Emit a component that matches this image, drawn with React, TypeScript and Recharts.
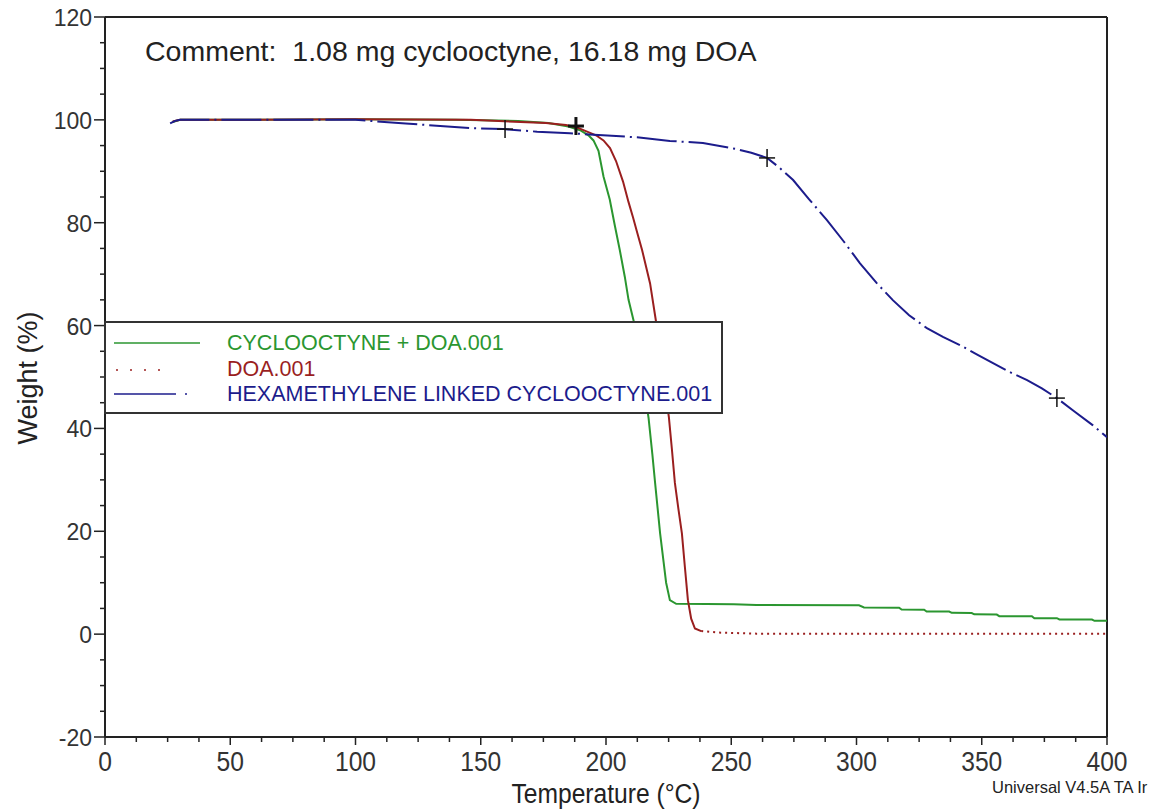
import { ComposedChart, Line, Scatter, XAxis, YAxis, ReferenceLine, Legend } from "recharts";

// TGA traces, [temperature °C, weight %]
const cyclooctyneDoa: [number, number][] = [
  [27, 99.6], [30, 100], [60, 100], [100, 100.1], [140, 100], [165, 99.8], [177, 99.4],
  [185, 98.7], [190, 97.9], [193, 97], [195, 96], [197, 94], [199, 89], [201.5, 84.5],
  [203.5, 79.5], [205.5, 74.7], [207.5, 69.5], [209, 65], [211, 61], [214, 52], [217, 42],
  [218.5, 35], [219.6, 29.4], [220.6, 24.5], [221.6, 19.6], [223, 14], [224, 10], [225.5, 6.6],
  [228, 5.9], [240, 5.85], [251, 5.8], [260, 5.65], [301, 5.6], [303, 5.2], [317, 5.15],
  [318, 4.8], [327, 4.75], [328, 4.4], [337, 4.4], [338, 4.15], [346, 4.1], [347, 3.85],
  [356, 3.8], [357, 3.5], [370, 3.5], [371, 3.1], [380, 3.1], [381, 2.85], [394, 2.85],
  [395, 2.6], [400, 2.6],
];

const doa: [number, number][] = [
  [27, 99.7], [30, 100], [100, 100.1], [146, 100], [176, 99.4], [184, 99], [188, 98.6],
  [191, 98], [196, 97], [199, 96], [201.6, 94.5], [204, 92], [206.8, 88], [209, 84],
  [210.8, 81], [212.5, 78], [214.4, 74.7], [217.6, 68.2], [220, 60.7], [222.5, 51.5],
  [225.1, 42.2], [226.3, 36], [227.5, 29.4], [229, 24], [230.3, 19.6], [231.5, 13],
  [232.7, 6.6], [234, 3], [235.5, 1.1], [238, 0.6], [245, 0.3], [260, 0.1], [400, 0.1],
];

const hexLinked: [number, number][] = [
  [26, 99.3], [28, 99.8], [30, 100], [100, 100], [120, 99.3], [146, 98.4], [159, 98.2],
  [172.5, 97.7], [185.6, 97.4], [198.8, 97], [212.4, 96.6], [225.5, 95.9], [238.7, 95.5],
  [252.3, 94.3], [258, 93.6], [264.3, 92.6], [269, 90.8], [274.7, 88.3], [281, 84.6],
  [288.2, 80.5], [295, 76.3], [301.4, 72.1], [308, 68.3], [314.6, 64.9], [321, 62],
  [328.1, 59.5], [334.5, 57.8], [341.3, 56.2], [348, 54.4], [354.5, 52.7], [361, 51],
  [368.1, 49.4], [374, 47.8], [380, 45.9], [387, 43.3], [394.4, 40.6], [400, 38.3],
];

// analysis cursors (+)
const cursorT = [159.7, 188, 264.3, 380];
const cursorW = [98.2, 98.8, 92.6, 45.9];
const cursorBold = [false, true, false, false];

const xMajor = [0, 50, 100, 150, 200, 250, 300, 350, 400];
const yMajor = [-20, 0, 20, 40, 60, 80, 100, 120];
const xTicks = Array.from({ length: 33 }, (_, i) => i * 12.5);
const yTicks = Array.from({ length: 29 }, (_, i) => -20 + i * 5);

const legendLabels = ["CYCLOOCTYNE + DOA.001", "DOA.001", "HEXAMETHYLENE LINKED CYCLOOCTYNE.001"];

const GREEN = "#2b9630";
const RED = "#9a1f1f";
const BLUE = "#1c1c8c";
const INK = "#222";

const toPts = (arr: [number, number][]) => arr.map(([t, w]) => ({ t, w }));
const doaHead = toPts(doa.filter(([t]) => t <= 238));
const doaTail = toPts(doa.filter(([t]) => t >= 238));
const cursors = cursorT.map((t, i) => ({ t, w: cursorW[i], bold: cursorBold[i] }));

const sans = "'Liberation Sans', Arial, sans-serif";

const YTick = (props: any) => {
  const { x, y, payload } = props;
  const major = yMajor.includes(payload.value);
  return (
    <g>
      <line x1={x - (major ? 11 : 5)} x2={x} y1={y} y2={y} stroke={INK} strokeWidth={1.5} />
      {major && (
        <text x={x - 13} y={y + 1} textAnchor="end" dominantBaseline="central" fontSize={23} fill="#333" fontFamily={sans}>
          {payload.value}
        </text>
      )}
    </g>
  );
};

// x labels in the reference are condensed
const XTick = (props: any) => {
  const { x, y, payload } = props;
  const major = xMajor.includes(payload.value);
  return (
    <g>
      <line x1={x} x2={x} y1={y} y2={y + (major ? 8 : 5)} stroke={INK} strokeWidth={1.5} />
      {major && (
        <text
          transform={`translate(${x} ${y + 24}) scale(0.88 1)`}
          textAnchor="middle"
          dominantBaseline="central"
          fontSize={28}
          fill="#333"
          fontFamily={sans}
        >
          {payload.value}
        </text>
      )}
    </g>
  );
};

const Plus = (props: any) => {
  const { cx, cy, payload } = props;
  const sw = payload.bold ? 3 : 1.5;
  return (
    <g stroke="#111" strokeWidth={sw}>
      <line x1={cx - 8} x2={cx + 8} y1={cy} y2={cy} />
      <line x1={cx} x2={cx} y1={cy - 9} y2={cy + 9} />
    </g>
  );
};

const renderLegend = () => (
  <svg width={620} height={94} style={{ display: "block" }}>
    <rect x={1} y={1} width={617} height={91} fill="#fff" stroke="#333" strokeWidth={2} />
    <line x1={10} x2={96} y1={22} y2={22} stroke={GREEN} strokeWidth={1.5} />
    <line x1={12} x2={62} y1={49} y2={49} stroke={RED} strokeWidth={1.5} strokeDasharray="2 12" />
    <line x1={10} x2={72} y1={73} y2={73} stroke={BLUE} strokeWidth={1.5} />
    <line x1={81} x2={83} y1={73} y2={73} stroke={BLUE} strokeWidth={1.5} />
    {legendLabels.map((label, i) => (
      <text
        key={label}
        x={123}
        y={[22, 48, 73][i]}
        dominantBaseline="central"
        fontSize={21.5}
        fontFamily={sans}
        fill={[GREEN, RED, BLUE][i]}
      >
        {label}
      </text>
    ))}
  </svg>
);

function App() {
  return (
    <div style={{ position: "absolute", left: 0, top: 0, width: 1153, height: 810, background: "#fff" }}>
      <ComposedChart width={1153} height={810} margin={{ top: 17, right: 46, bottom: 0, left: 0 }}>
        <XAxis
          dataKey="t"
          type="number"
          domain={[0, 400]}
          ticks={xTicks}
          interval={0}
          allowDataOverflow
          height={73}
          tickSize={0}
          tickMargin={0}
          tickLine={false}
          tick={<XTick />}
          axisLine={{ stroke: INK, strokeWidth: 2 }}
          label={{
            content: () => (
              <text
                transform="translate(606 793) scale(0.88 1)"
                textAnchor="middle"
                dominantBaseline="central"
                fontSize={28}
                fill={INK}
                fontFamily={sans}
              >
                Temperature (°C)
              </text>
            ),
          }}
        />
        <YAxis
          type="number"
          domain={[-20, 120]}
          ticks={yTicks}
          interval={0}
          allowDataOverflow
          width={105}
          tickSize={0}
          tickMargin={0}
          tickLine={false}
          tick={<YTick />}
          axisLine={{ stroke: INK, strokeWidth: 2 }}
          label={{
            content: () => (
              <text
                x={28}
                y={378}
                textAnchor="middle"
                dominantBaseline="central"
                fontSize={27}
                fill={INK}
                fontFamily={sans}
                transform="rotate(-90 28 378)"
              >
                Weight (%)
              </text>
            ),
          }}
        />
        <ReferenceLine y={120} stroke={INK} strokeWidth={2} />
        <ReferenceLine x={400} stroke={INK} strokeWidth={2} />
        <Line data={toPts(cyclooctyneDoa)} dataKey="w" stroke={GREEN} strokeWidth={2} dot={false} isAnimationActive={false} />
        <Line data={doaHead} dataKey="w" stroke={RED} strokeWidth={2} dot={false} isAnimationActive={false} />
        <Line data={doaTail} dataKey="w" stroke={RED} strokeWidth={2} strokeDasharray="2 4" dot={false} isAnimationActive={false} />
        <Line data={toPts(hexLinked)} dataKey="w" stroke={BLUE} strokeWidth={2} strokeDasharray="40 5 2 5" dot={false} isAnimationActive={false} />
        <Scatter data={cursors} dataKey="w" shape={<Plus />} isAnimationActive={false} />
        <Legend
          layout="horizontal"
          verticalAlign="middle"
          content={renderLegend}
          wrapperStyle={{ left: 104, top: 321, width: 620, height: 94 }}
        />
      </ComposedChart>
      <div
        style={{
          position: "absolute",
          left: 145,
          top: 33,
          fontSize: 28.5,
          fontFamily: sans,
          color: INK,
          whiteSpace: "pre",
          lineHeight: "36px",
        }}
      >
        {"Comment:  1.08 mg cyclooctyne, 16.18 mg DOA"}
      </div>
      <div
        style={{
          position: "absolute",
          left: 992,
          top: 777,
          fontSize: 16.5,
          fontFamily: sans,
          color: INK,
          whiteSpace: "pre",
          lineHeight: "20px",
        }}
      >
        Universal V4.5A TA Ir
      </div>
    </div>
  );
}

export default App;
